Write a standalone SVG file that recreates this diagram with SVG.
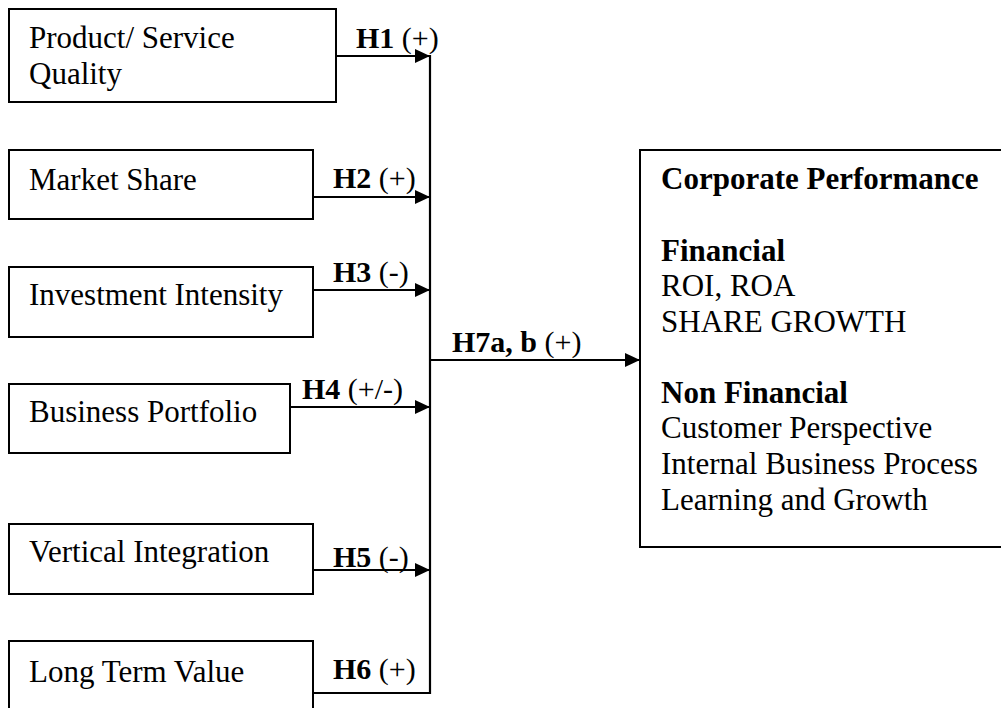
<svg xmlns="http://www.w3.org/2000/svg" width="1001" height="708" viewBox="0 0 1001 708">
  <style>
    .box { fill: #ffffff; stroke: #000000; stroke-width: 2; }
    .txt { font-family: "Liberation Serif", "Times New Roman", serif; font-size: 31px; fill: #000000; }
    .lbl { font-family: "Liberation Serif", "Times New Roman", serif; font-size: 30px; fill: #000000; }
    .b { font-weight: bold; }
    .wire { fill: none; stroke: #000000; stroke-width: 2.2; }
  </style>
  <defs>
    <marker id="arrow" markerUnits="userSpaceOnUse" markerWidth="15" markerHeight="14" refX="15" refY="7" orient="auto">
      <path d="M0,0 L15,7 L0,14 Z" fill="#000000"/>
    </marker>
  </defs>
  <rect width="1001" height="708" fill="#ffffff"/>

  <!-- connectors -->
  <g id="connectors">
    <line class="wire" x1="336" y1="56" x2="430" y2="56" marker-end="url(#arrow)"/>
    <line class="wire" x1="313" y1="197" x2="430" y2="197" marker-end="url(#arrow)"/>
    <line class="wire" x1="313" y1="290" x2="430" y2="290" marker-end="url(#arrow)"/>
    <line class="wire" x1="290" y1="407" x2="430" y2="407" marker-end="url(#arrow)"/>
    <line class="wire" x1="313" y1="570" x2="430" y2="570" marker-end="url(#arrow)"/>
    <polyline class="wire" points="313,693 430,693 430,55"/>
    <line class="wire" x1="430" y1="360" x2="640" y2="360" marker-end="url(#arrow)"/>
    <text class="lbl" x="356" y="48"><tspan class="b">H1</tspan> (+)</text>
    <text class="lbl" x="333" y="188"><tspan class="b">H2</tspan> (+)</text>
    <text class="lbl" x="333" y="282"><tspan class="b">H3</tspan> (-)</text>
    <text class="lbl" x="302" y="399"><tspan class="b">H4</tspan> (+/-)</text>
    <text class="lbl" x="333" y="567"><tspan class="b">H5</tspan> (-)</text>
    <text class="lbl" x="333" y="679"><tspan class="b">H6</tspan> (+)</text>
    <text class="lbl" x="452" y="352"><tspan class="b">H7a, b</tspan> (+)</text>
  </g>

  <g id="quality">
    <rect class="box" x="9" y="9" width="327" height="93"/>
    <text class="txt" x="29" y="48">Product/ Service</text>
    <text class="txt" x="29" y="84">Quality</text>
  </g>
  <g id="market-share">
    <rect class="box" x="9" y="150" width="304" height="69"/>
    <text class="txt" x="29" y="190">Market Share</text>
  </g>
  <g id="investment">
    <rect class="box" x="9" y="267" width="304" height="70"/>
    <text class="txt" x="29" y="305">Investment Intensity</text>
  </g>
  <g id="portfolio">
    <rect class="box" x="9" y="384" width="281" height="69"/>
    <text class="txt" x="29" y="422">Business Portfolio</text>
  </g>
  <g id="vertical">
    <rect class="box" x="9" y="524" width="304" height="70"/>
    <text class="txt" x="29" y="562">Vertical Integration</text>
  </g>
  <g id="long-term">
    <rect class="box" x="9" y="641" width="304" height="80"/>
    <text class="txt" x="29" y="682">Long Term Value</text>
  </g>
  <g id="performance">
    <rect class="box" x="640" y="150" width="380" height="397"/>
    <text class="txt b" x="661" y="189">Corporate Performance</text>
    <text class="txt b" x="661" y="261">Financial</text>
    <text class="txt" x="661" y="296">ROI, ROA</text>
    <text class="txt" x="661" y="332">SHARE GROWTH</text>
    <text class="txt b" x="661" y="403">Non Financial</text>
    <text class="txt" x="661" y="438">Customer Perspective</text>
    <text class="txt" x="661" y="474">Internal Business Process</text>
    <text class="txt" x="661" y="510">Learning and Growth</text>
  </g>
</svg>
